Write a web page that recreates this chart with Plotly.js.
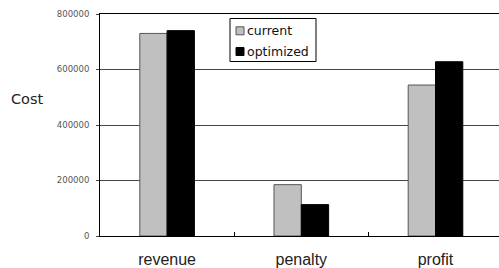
<!DOCTYPE html>
<html>
<head>
<meta charset="utf-8">
<script src="https://cdn.plot.ly/plotly-3.0.1.min.js"></script>
<style>html,body{margin:0;padding:0;background:#fff;}#chart{width:499px;height:268px;}</style>
</head>
<body>
<div id="chart"></div>
<script>
// ---- data ----
const categories = ["revenue", "penalty", "profit"];
const seriesNames = ["current", "optimized"];
const currentValues = [730000, 185000, 544000];
const optimizedValues = [740000, 113000, 628000];
const yTickValues = [0, 200000, 400000, 600000, 800000];
const yTickLabels = ["0", "200000", "400000", "600000", "800000"];

// ---- styles ----
const fills = ["#C0C0C0", "#000000"];
const edges = ["#555555", "#000000"];
const W = 499, H = 268;
const M = {l: 100, r: 0, t: 14, b: 32};
const plotW = W - M.l - M.r, plotH = H - M.t - M.b;
const px = x => (x - M.l) / plotW;          // pixel -> paper x
const py = y => (H - M.b - y) / plotH;      // pixel -> paper y

const traces = [currentValues, optimizedValues].map((vals, i) => ({
  type: "bar",
  name: seriesNames[i],
  x: categories,
  y: vals,
  marker: {color: fills[i], line: {color: edges[i], width: 1}},
  hoverinfo: "skip"
}));

// custom legend (box, swatches, labels)
const shapes = [{
  type: "rect", xref: "paper", yref: "paper",
  x0: px(230), x1: px(316), y0: py(61.5), y1: py(18.5),
  line: {color: "#000", width: 1}, fillcolor: "#fff", layer: "above"
}];
const annotations = [{
  text: "Cost", xref: "paper", yref: "paper", x: px(9), y: py(99.5),
  xanchor: "left", yanchor: "middle", showarrow: false,
  font: {family: "DejaVu Sans", size: 14.5, color: "#222"}
}];
const rowY = [30.8, 51.5];
seriesNames.forEach((n, i) => {
  shapes.push({
    type: "rect", xref: "paper", yref: "paper",
    x0: px(236), x1: px(244), y0: py(rowY[i] + 4), y1: py(rowY[i] - 4),
    line: {color: edges[i], width: 1}, fillcolor: fills[i], layer: "above"
  });
  annotations.push({
    text: n, xref: "paper", yref: "paper", x: px(245), y: py(rowY[i]),
    xanchor: "left", yanchor: "middle", showarrow: false,
    font: {family: "DejaVu Sans", size: 12.5, color: "#111"}
  });
});

const layout = {
  width: W, height: H,
  margin: M,
  paper_bgcolor: "#fff", plot_bgcolor: "#fff",
  showlegend: false,
  barmode: "group", bargap: 0.593, bargroupgap: 0,
  xaxis: {
    type: "category",
    range: [-0.5, -0.5 + plotW / 134.2],
    showline: true, linecolor: "#000", linewidth: 1, mirror: true,
    ticks: "inside", tickson: "boundaries", ticklen: 4, tickcolor: "#000",
    showgrid: false, zeroline: false,
    tickfont: {family: "Liberation Sans", size: 16, color: "#222"},
    ticklabelstandoff: 9
  },
  yaxis: {
    range: [0, 800000],
    tickvals: yTickValues, ticktext: yTickLabels,
    showline: true, linecolor: "#000", linewidth: 1,
    ticks: "outside", ticklen: 3, tickcolor: "#444",
    showgrid: true, gridcolor: "#444", gridwidth: 1,
    zeroline: false,
    tickfont: {family: "DejaVu Sans", size: 8.5, color: "#555"},
    ticklabelstandoff: 5
  },
  shapes: shapes,
  annotations: annotations
};

Plotly.newPlot("chart", traces, layout, {displayModeBar: false, staticPlot: true});
</script>
</body>
</html>
